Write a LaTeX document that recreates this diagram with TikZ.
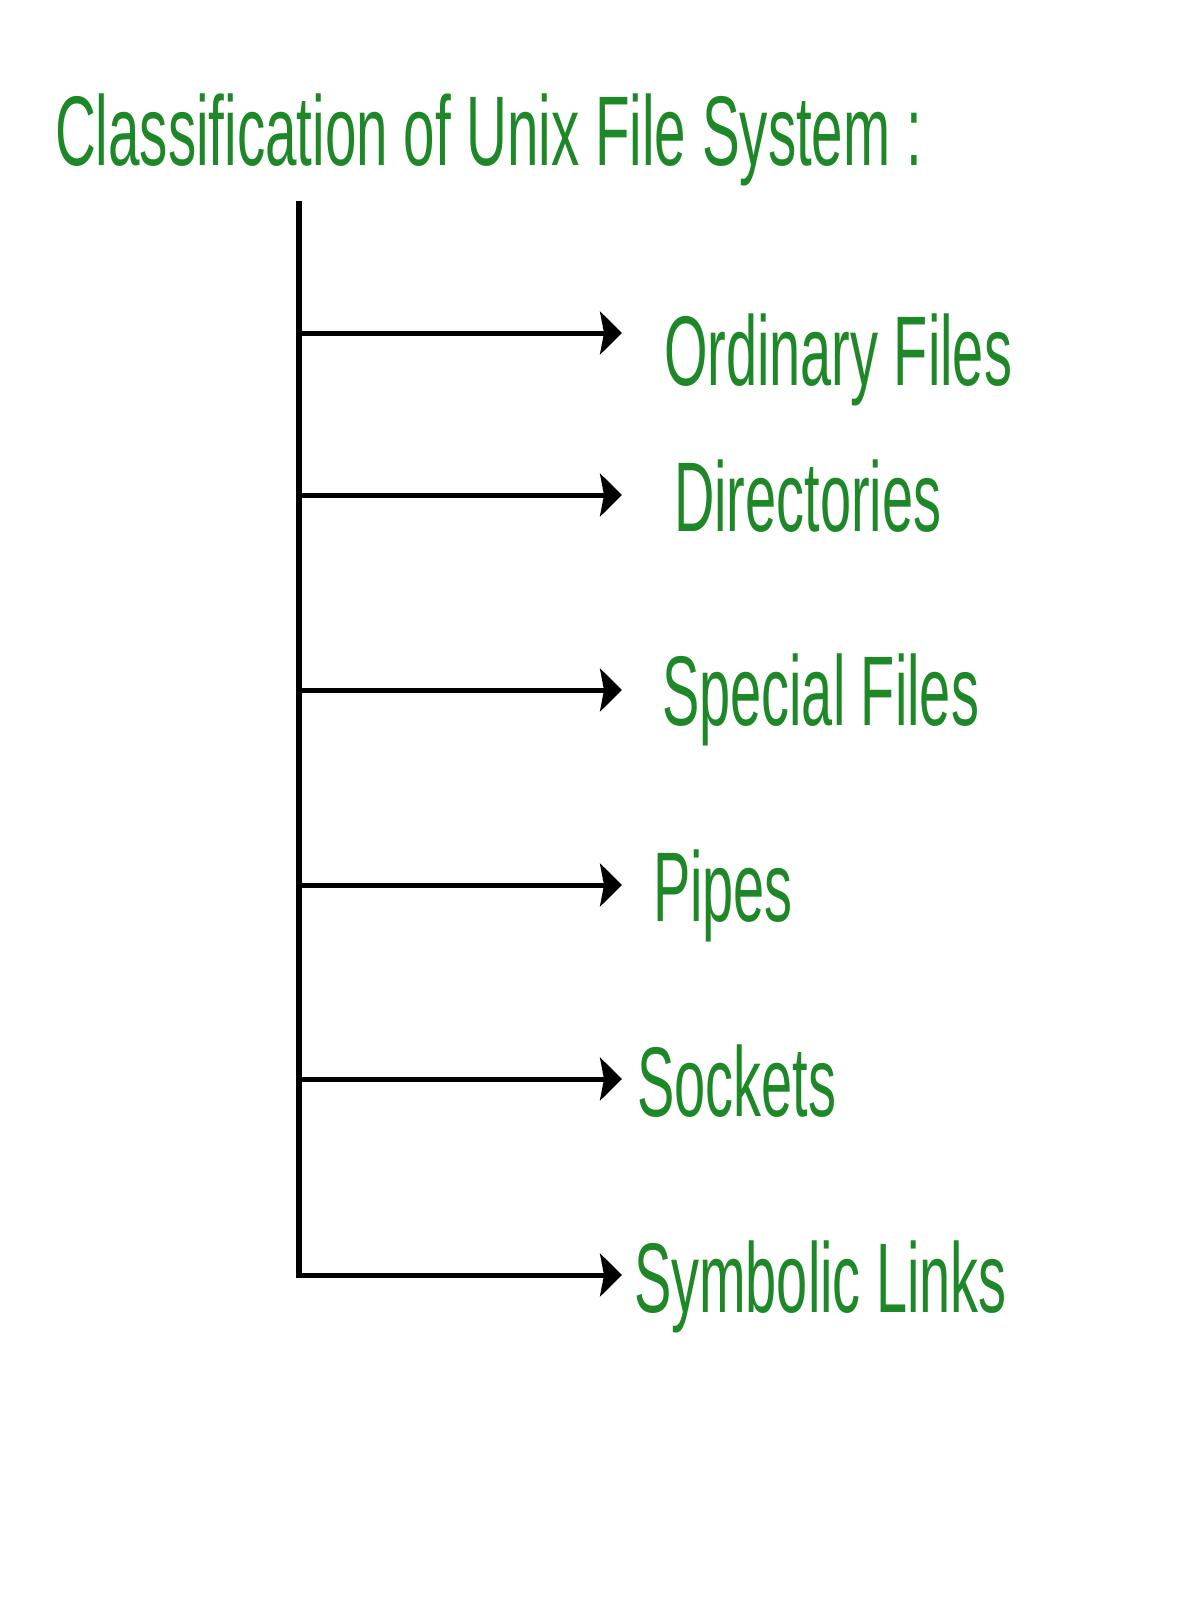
\documentclass[tikz,border=0pt]{standalone}
\usepackage{fontspec}
\usetikzlibrary{arrows.meta}
\newfontfamily\lblfont[FakeStretch=0.565]{Liberation Sans}
\newfontfamily\ttlfont[FakeStretch=0.571]{Liberation Sans}
\definecolor{lblgreen}{RGB}{30,136,40}
\begin{document}
\begin{tikzpicture}[x=1pt,y=-1pt,
  lbl/.style={anchor=base west,inner sep=0pt,outer sep=0pt,text=lblgreen,font=\lblfont\fontsize{99}{110}\selectfont},
  ttl/.style={anchor=base west,inner sep=0pt,outer sep=0pt,text=lblgreen,font=\ttlfont\fontsize{99}{110}\selectfont},
  trunk/.style={line width=5.5pt,black},
  branch/.style={line width=5pt,black,-{Stealth[length=22pt,width=43pt,inset=4pt]}}]
\fill[white] (0,0) rectangle (1200,1600);
\useasboundingbox (0,0) rectangle (1200,1600);
\node[ttl] (title) at (55,165) {Classification of Unix File System :};
\coordinate (top) at (299,201);
\coordinate (b1) at (299,333);
\coordinate (b2) at (299,495);
\coordinate (b3) at (299,690);
\coordinate (b4) at (299,885);
\coordinate (b5) at (299,1079);
\coordinate (b6) at (299,1275);
\coordinate (bot) at (299,1277.5);
\coordinate (t1) at (622,333);
\coordinate (t2) at (622,495);
\coordinate (t3) at (622,690);
\coordinate (t4) at (622,885);
\coordinate (t5) at (622,1079);
\coordinate (t6) at (622,1275);
\draw[trunk] (top) -- (bot);
\draw[branch] (b1) -- (t1);
\draw[branch] (b2) -- (t2);
\draw[branch] (b3) -- (t3);
\draw[branch] (b4) -- (t4);
\draw[branch] (b5) -- (t5);
\draw[branch] (b6) -- (t6);
\node[lbl] (n1) at (664,385) {Ordinary Files};
\node[lbl] (n2) at (674,531) {Directories};
\node[lbl] (n3) at (662,725) {Special Files};
\node[lbl] (n4) at (653,921) {Pipes};
\node[lbl] (n5) at (637,1116) {Sockets};
\node[lbl] (n6) at (634,1312) {Symbolic Links};
\end{tikzpicture}
\end{document}
